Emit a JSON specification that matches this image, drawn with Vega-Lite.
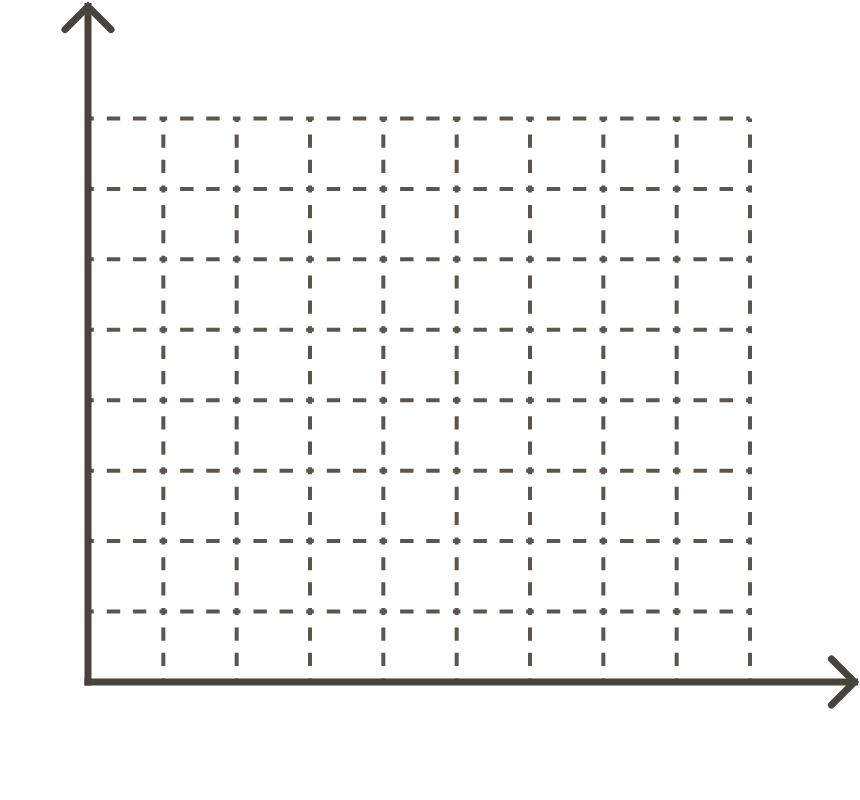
{
  "$schema": "https://vega.github.io/schema/vega-lite/v6.json",
  "width": 860,
  "height": 800,
  "padding": 0,
  "autosize": {"type": "none"},
  "background": "#ffffff",
  "config": {"view": {"stroke": null}},
  "datasets": {
    "hgrid": [
      {"x": 0, "x2": 9, "y": 1},
      {"x": 0, "x2": 9, "y": 2},
      {"x": 0, "x2": 9, "y": 3},
      {"x": 0, "x2": 9, "y": 4},
      {"x": 0, "x2": 9, "y": 5},
      {"x": 0, "x2": 9, "y": 6},
      {"x": 0, "x2": 9, "y": 7},
      {"x": 0, "x2": 9, "y": 8}
    ],
    "vgrid": [
      {"x": 1, "y": 0, "y2": 8},
      {"x": 2, "y": 0, "y2": 8},
      {"x": 3, "y": 0, "y2": 8},
      {"x": 4, "y": 0, "y2": 8},
      {"x": 5, "y": 0, "y2": 8},
      {"x": 6, "y": 0, "y2": 8},
      {"x": 7, "y": 0, "y2": 8},
      {"x": 8, "y": 0, "y2": 8},
      {"x": 9, "y": 0, "y2": 8}
    ],
    "axes": [
      {"axis": "y", "x": -0.0273, "x2": -0.0273, "y": 0, "y2": 9.59},
      {"axis": "x", "x": -0.0273, "x2": 10.424, "y": 0, "y2": 0}
    ],
    "tips": [
      {"axis": "y", "x": -0.0273, "y": 9.59, "dir": 0},
      {"axis": "x", "x": 10.424, "y": 0, "dir": 90}
    ]
  },
  "layer": [
    {
      "data": {"name": "hgrid"},
      "mark": {"type": "rule", "color": "#5d554d", "strokeWidth": 4, "strokeDash": [7.6, 13, 13.4, 12.7, 13.4, 13.23], "strokeDashOffset": 3.8, "strokeCap": "butt"},
      "encoding": {
        "x": {"field": "x", "type": "quantitative", "scale": {"domain": [-1.22727, 10.5], "nice": false, "zero": false}, "axis": null},
        "x2": {"field": "x2"},
        "y": {"field": "y", "type": "quantitative", "scale": {"domain": [-1.67518, 9.682], "nice": false, "zero": false}, "axis": null}
      }
    },
    {
      "data": {"name": "vgrid"},
      "mark": {"type": "rule", "color": "#5d554d", "strokeWidth": 4, "strokeDash": [7, 12.5, 13.2, 12, 13.2, 12.54], "strokeDashOffset": 3.5, "strokeCap": "butt"},
      "encoding": {
        "x": {"field": "x", "type": "quantitative", "scale": {"domain": [-1.22727, 10.5], "nice": false, "zero": false}, "axis": null},
        "y": {"field": "y", "type": "quantitative", "scale": {"domain": [-1.67518, 9.682], "nice": false, "zero": false}, "axis": null},
        "y2": {"field": "y2"}
      }
    },
    {
      "data": {"name": "axes"},
      "mark": {"type": "rule", "color": "#48433b", "strokeWidth": 7, "strokeCap": "square"},
      "encoding": {
        "x": {"field": "x", "type": "quantitative", "scale": {"domain": [-1.22727, 10.5], "nice": false, "zero": false}, "axis": null},
        "x2": {"field": "x2"},
        "y": {"field": "y", "type": "quantitative", "scale": {"domain": [-1.67518, 9.682], "nice": false, "zero": false}, "axis": null},
        "y2": {"field": "y2"}
      }
    },
    {
      "data": {"name": "tips"},
      "mark": {"type": "point", "shape": "M-1,1L0,0L1,1", "size": 2116, "filled": false, "stroke": "#48433b", "strokeWidth": 7, "strokeCap": "round", "strokeJoin": "miter", "opacity": 1},
      "encoding": {
        "x": {"field": "x", "type": "quantitative", "scale": {"domain": [-1.22727, 10.5], "nice": false, "zero": false}, "axis": null},
        "y": {"field": "y", "type": "quantitative", "scale": {"domain": [-1.67518, 9.682], "nice": false, "zero": false}, "axis": null},
        "angle": {"field": "dir", "type": "quantitative", "scale": null}
      }
    }
  ]
}
